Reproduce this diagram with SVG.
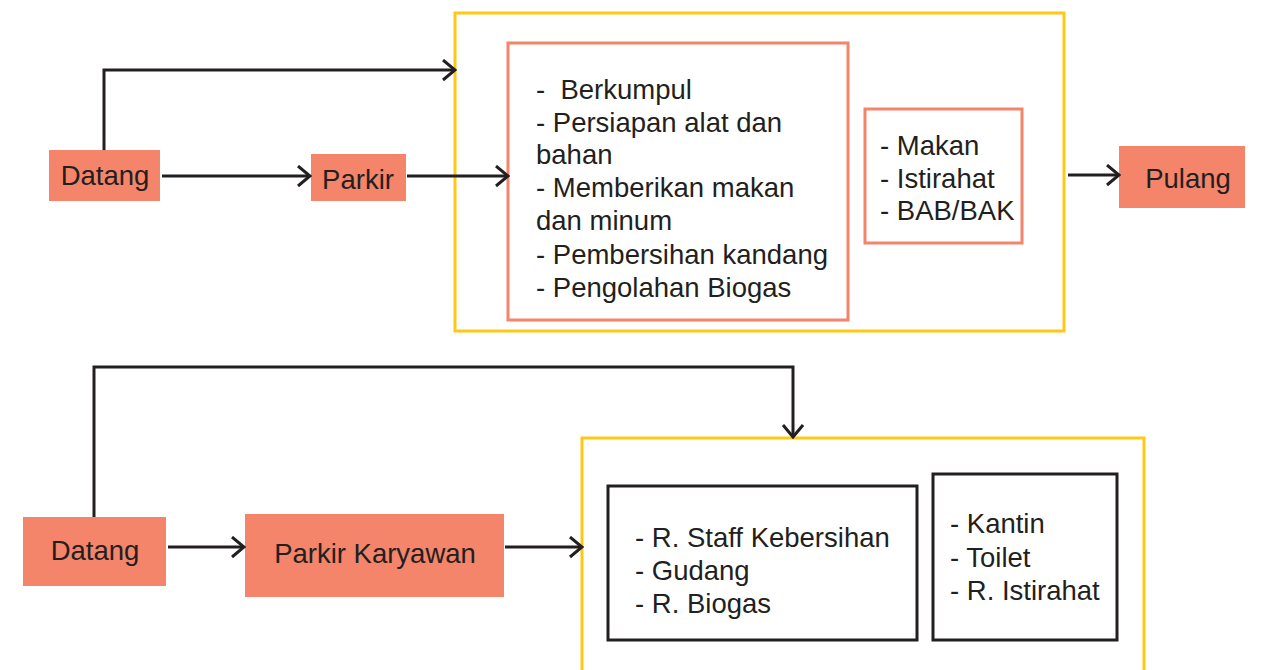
<svg xmlns="http://www.w3.org/2000/svg" width="1272" height="670" viewBox="0 0 1272 670">
  <defs>
    <style>
      .node { fill: #F4846A; }
      .frame { fill: none; stroke: #FFC814; stroke-width: 3; }
      .panel { fill: #FFFFFF; stroke: #F4846A; stroke-width: 3; }
      .panel-dark { fill: #FFFFFF; stroke: #231F20; stroke-width: 3; }
      .label { font-family: "Liberation Sans", Arial, sans-serif; font-size: 27.5px; fill: #231F20; }
      .mid { text-anchor: middle; }
      .link { fill: none; stroke: #231F20; stroke-width: 3; marker-end: url(#chevron); }
    </style>
    <marker id="chevron" markerUnits="userSpaceOnUse" markerWidth="16" markerHeight="24" refX="14" refY="11" orient="auto">
      <path d="M2,1 L14,11 L2,21" fill="none" stroke="#231F20" stroke-width="3"/>
    </marker>
  </defs>
  <rect width="1272" height="670" fill="#FFFFFF"/>

  <!-- Top flow: activities -->
  <g id="activity-frame">
    <rect class="frame" x="455" y="13" width="609" height="318"/>
  </g>
  <g id="activity-list">
    <rect class="panel" x="508" y="43" width="340" height="277"/>
    <text class="label" x="536" xml:space="preserve"><tspan x="536" y="99">-  Berkumpul</tspan><tspan x="536" y="132">- Persiapan alat dan</tspan><tspan x="536" y="164">bahan</tspan><tspan x="536" y="197">- Memberikan makan</tspan><tspan x="536" y="230">dan minum</tspan><tspan x="536" y="264">- Pembersihan kandang</tspan><tspan x="536" y="297">- Pengolahan Biogas</tspan></text>
  </g>
  <g id="break-list">
    <rect class="panel" x="865" y="109" width="157" height="134"/>
    <text class="label"><tspan x="880" y="155">- Makan</tspan><tspan x="880" y="188">- Istirahat</tspan><tspan x="880" y="220">- BAB/BAK</tspan></text>
  </g>
  <g id="datang-top">
    <rect class="node" x="49" y="150" width="111" height="51"/>
    <text class="label mid" x="105" y="185">Datang</text>
  </g>
  <g id="parkir-top">
    <rect class="node" x="311" y="154" width="95" height="47"/>
    <text class="label mid" x="358" y="189">Parkir</text>
  </g>
  <g id="pulang">
    <rect class="node" x="1119" y="146" width="126" height="62"/>
    <text class="label mid" x="1188" y="188">Pulang</text>
  </g>

  <!-- Bottom flow: staff areas -->
  <g id="staff-frame">
    <rect class="frame" x="582" y="438" width="562" height="260"/>
  </g>
  <g id="staff-rooms">
    <rect class="panel-dark" x="608" y="486" width="309" height="154"/>
    <text class="label"><tspan x="635" y="547">- R. Staff Kebersihan</tspan><tspan x="635" y="580">- Gudang</tspan><tspan x="635" y="613">- R. Biogas</tspan></text>
  </g>
  <g id="facility-rooms">
    <rect class="panel-dark" x="933" y="474" width="184" height="166"/>
    <text class="label"><tspan x="950" y="533">- Kantin</tspan><tspan x="950" y="567">- Toilet</tspan><tspan x="950" y="600">- R. Istirahat</tspan></text>
  </g>
  <g id="datang-bottom">
    <rect class="node" x="23" y="517" width="143" height="69"/>
    <text class="label mid" x="95" y="560">Datang</text>
  </g>
  <g id="parkir-karyawan">
    <rect class="node" x="245" y="514" width="259" height="83"/>
    <text class="label mid" x="375" y="563">Parkir Karyawan</text>
  </g>

  <g id="connectors">
    <path class="link" d="M104,150 V70 H455"/>
    <path class="link" d="M162,176 H310"/>
    <path class="link" d="M407,176 H508"/>
    <path class="link" d="M1068,175 H1119"/>
    <path class="link" d="M94,517 V367 H793 V437"/>
    <path class="link" d="M168,547 H244"/>
    <path class="link" d="M505,547 H582"/>
  </g>
</svg>
